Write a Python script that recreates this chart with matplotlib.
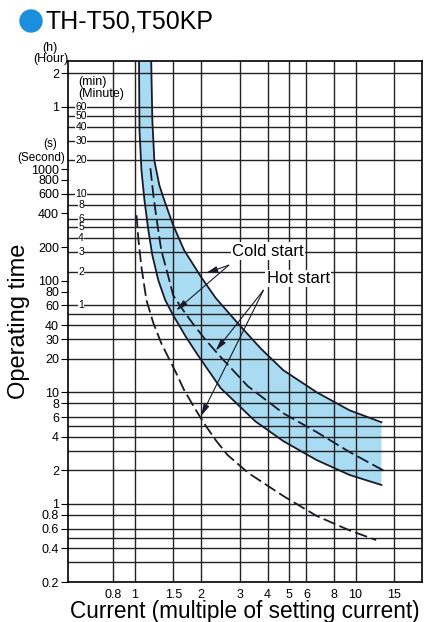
import matplotlib
matplotlib.use("Agg")
import matplotlib.pyplot as plt
from matplotlib.patches import Ellipse

plt.rcParams['font.family'] = ['Liberation Sans', 'DejaVu Sans']

# current (multiple of setting current) vs operating time (s)
cold_upper_x = [1.19, 1.204, 1.229, 1.295, 1.363, 1.496, 1.676, 2.0, 2.33, 2.93,
                3.71, 4.71, 6.68, 9.4, 13.1]
cold_upper_y = [9300, 2736, 1200, 717, 526, 314, 188, 108, 70, 41.7,
                24.9, 15.8, 10.0, 6.9, 5.4]
cold_lower_x = [1.048, 1.053, 1.075, 1.109, 1.155, 1.204, 1.281, 1.377, 1.496,
                1.711, 1.936, 2.455, 3.52, 4.71, 6.68, 9.4, 13.1]
cold_lower_y = [9300, 2226, 975, 526, 283, 169, 101, 67, 49,
                31.2, 21.5, 10.9, 5.5, 3.66, 2.47, 1.82, 1.48]
hot_upper_x = [1.18, 1.217, 1.255, 1.321, 1.406, 1.496, 1.659, 1.858, 2.10,
               2.455, 3.25, 4.71, 6.68, 9.4, 13.8]
hot_upper_y = [1017, 583, 371, 188, 119, 74, 54.5, 40, 29.4,
               20.7, 11.4, 6.5, 4.4, 2.92, 1.93]
hot_lower_x = [1.021, 1.042, 1.075, 1.132, 1.217, 1.321, 1.42, 1.543, 1.676,
               1.858, 2.06, 2.33, 2.64, 3.28, 4.71, 6.68, 9.4, 12.4]
hot_lower_y = [386, 231, 132, 67, 41.7, 27.6, 20.7, 14.9, 10.5,
               7.4, 5.3, 3.73, 2.74, 1.89, 1.18, 0.78, 0.58, 0.475]

x_ticks = [0.8, 1, 1.5, 2, 3, 4, 5, 6, 8, 10, 15]
x_labels = ['0.8', '1', '1.5', '2', '3', '4', '5', '6', '8', '10', '15']
y_ticks = [0.2, 0.4, 0.6, 0.8, 1, 2, 4, 6, 8, 10, 20, 30, 40, 60, 80, 100,
           200, 400, 600, 800, 1000, 3600, 7200]
y_labels = ['0.2', '0.4', '0.6', '0.8', '1', '2', '4', '6', '8', '10', '20', '30',
            '40', '60', '80', '100', '200', '400', '600', '800', '1000', '1', '2']
y_grid = [0.3, 0.4, 0.5, 0.6, 0.8, 1, 2, 3, 4, 5, 6, 8, 10, 20, 30, 40, 50, 60,
          120, 180, 240, 300, 360, 480, 600, 1200, 1800, 2400, 3000, 3600, 7200]
min_labels = [60, 50, 40, 30, 20, 10, 8, 6, 5, 4, 3, 2, 1]

fig = plt.figure(figsize=(4.25, 6.22), dpi=100)
ax = fig.add_axes([0.16, 0.0643, 0.833, 0.8377])
ax.set_xscale('log')
ax.set_yscale('log')
ax.set_xlim(0.5, 20)
ax.set_ylim(0.2, 9300)

for v in x_ticks:
    ax.axvline(v, color='#222222', lw=1.0, zorder=1)
for v in y_grid:
    ax.axhline(v, color='#222222', lw=1.0, zorder=1)

# band for cold start
ax.fill(cold_upper_x + cold_lower_x[::-1], cold_upper_y + cold_lower_y[::-1],
        color='#a9dcf2', lw=0, zorder=0.5)
ax.plot(cold_upper_x, cold_upper_y, color='#1a1a2a', lw=1.3, zorder=3)
ax.plot(cold_lower_x, cold_lower_y, color='#1a1a2a', lw=1.3, zorder=3)
ax.plot(hot_upper_x, hot_upper_y, color='#1a1a2a', lw=1.3, dashes=(7, 2.5), zorder=3)
ax.plot(hot_lower_x, hot_lower_y, color='#1a1a2a', lw=1.3, dashes=(7, 2.5), zorder=3)

ax.set_xticks(x_ticks)
ax.set_xticklabels(x_labels)
ax.set_xticks([], minor=True)
ax.set_yticks(y_ticks)
ax.set_yticklabels(y_labels)
ax.set_yticks([], minor=True)
ax.tick_params(axis='x', length=0, pad=5, labelsize=9)
ax.tick_params(axis='y', length=5, width=0.8, pad=1.5, labelsize=9)
for s in ax.spines.values():
    s.set_linewidth(1.2)

ax.set_xlabel('Current (multiple of setting current)', fontsize=16.3, labelpad=-1)
ax.set_ylabel('Operating time', fontsize=17, labelpad=1)

# minute scale written inside the axes
trans = ax.get_yaxis_transform()
for m in min_labels:
    ax.text(0.037, m * 60, str(m), transform=trans, ha='center', va='center',
            fontsize=7.5, zorder=4,
            bbox=dict(facecolor='white', edgecolor='none', pad=0.1))
ax.text(0.028, 1.9 * 3600, '(min)\n(Minute)', transform=trans, ha='left',
        va='top', fontsize=9, linespacing=1.0, zorder=4)

fig.text(0.118, 0.913, '(h)', ha='center', va='bottom', fontsize=9)
fig.text(0.160, 0.895, '(Hour)', ha='right', va='bottom', fontsize=9)
fig.text(0.135, 0.768, '(s)', ha='right', va='center', fontsize=8.5)
fig.text(0.153, 0.746, '(Second)', ha='right', va='center', fontsize=8.5)

arrow = dict(arrowstyle='-|>,head_length=0.7,head_width=0.18', color='#1a1a2a',
             lw=0.8, shrinkA=0, shrinkB=0)
ax.text(4.03, 184, 'Cold start', ha='center', va='center', fontsize=12, zorder=5,
        bbox=dict(facecolor='white', edgecolor='none', pad=1))
ax.annotate('', xy=(2.10, 116.6), xytext=(2.67, 137.7), arrowprops=arrow, zorder=5)
ax.annotate('', xy=(1.543, 54.1), xytext=(2.67, 137.7), arrowprops=arrow, zorder=5)
ax.text(5.5, 105, 'Hot start', ha='center', va='center', fontsize=12, zorder=5,
        bbox=dict(facecolor='white', edgecolor='none', pad=1))
ax.annotate('', xy=(2.33, 23.6), xytext=(3.83, 82.0), arrowprops=arrow, zorder=5)
ax.annotate('', xy=(2.0, 6.13), xytext=(3.83, 82.0), arrowprops=arrow, zorder=5)

# title with blue dot
fig.add_artist(Ellipse((31 / 425, 1 - 21 / 622), 22 / 425, 22 / 622,
                       transform=fig.transFigure, color='#1b8fdc'))
fig.text(45 / 425, 1 - 21 / 622, 'TH-T50,T50KP', ha='left', va='center',
         fontsize=18)

fig.savefig('out.png', dpi=100)
